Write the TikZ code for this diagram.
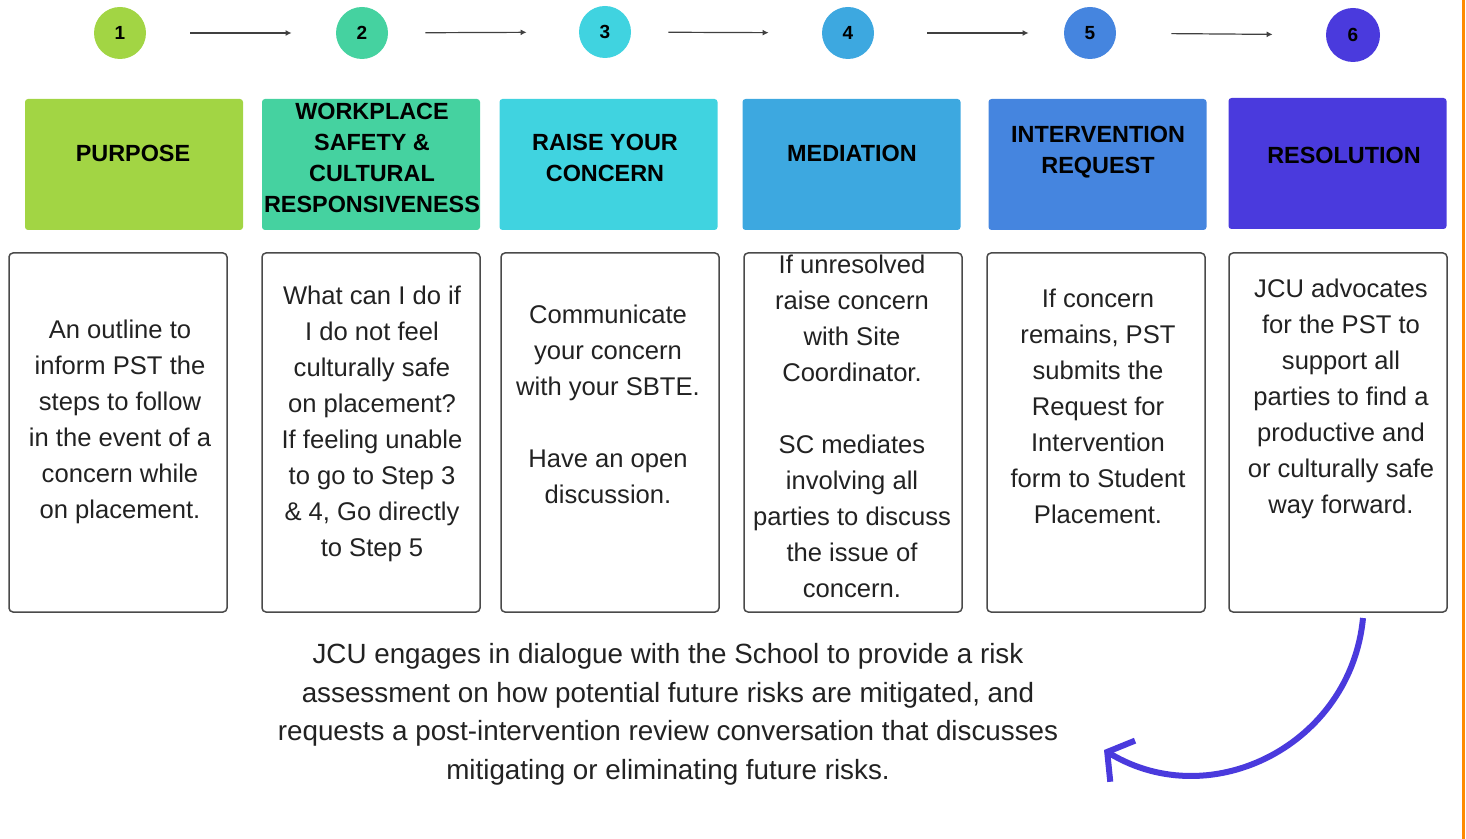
\documentclass[tikz,border=0pt]{standalone}
\usepackage{fontspec}
\setmainfont{Liberation Sans}
\newfontfamily\headfont{Liberation Sans}
\usetikzlibrary{arrows.meta}
\definecolor{cA}{HTML}{A2D544}
\definecolor{cB}{HTML}{45D2A0}
\definecolor{cC}{HTML}{40D3E0}
\definecolor{cD}{HTML}{3DA8E0}
\definecolor{cE}{HTML}{4585DF}
\definecolor{cF}{HTML}{4A3ADD}
\definecolor{orangeedge}{HTML}{FF8A00}
\definecolor{cardline}{HTML}{4A4A4A}
\definecolor{bodytext}{HTML}{222222}
\begin{document}
\begin{tikzpicture}[x=0.5pt,y=-0.5pt,
  circ/.style={circle, minimum size=26pt, inner sep=0pt, font=\bfseries\fontsize{9.5}{10}\selectfont, text=black},
  headbox/.style={rounded corners=1.5pt, minimum width=109pt, minimum height=65.5pt, inner sep=0pt},
  headtext/.style={align=center, font=\headfont\bfseries\fontsize{11.7}{15.5}\selectfont, text=black, inner sep=0pt},
  card/.style={draw=cardline, line width=0.75pt, rounded corners=2pt, minimum width=109pt, minimum height=179.5pt, inner sep=0pt},
  body/.style={align=center, font=\fontsize{12.8}{18}\selectfont, text=bodytext, inner sep=0pt},
  flow/.style={-{Latex[length=3pt,width=3pt]}, line width=0.6pt, draw=black!75},
  loopback/.style={draw=cF, line width=3pt, -{Straight Barb[length=9pt,width=24pt]}}
]
\useasboundingbox (0,0) rectangle (1466,839);
\draw[orangeedge, line width=1.5pt] (1463.5,0) -- (1463.5,839);

% step circles
\node[circ, fill=cA] (c1) at (120,33) {1};
\node[circ, fill=cB] (c2) at (362,33) {2};
\node[circ, fill=cC] (c3) at (605,32) {3};
\node[circ, fill=cD] (c4) at (848,33) {4};
\node[circ, fill=cE] (c5) at (1090,33) {5};
\node[circ, fill=cF, minimum size=27pt] (c6) at (1353,35) {6};
\draw[flow, shorten <=22pt, shorten >=22pt] (c1) -- (c2);
\draw[flow, shorten <=18.5pt, shorten >=26pt] (c2) -- (c3);
\draw[flow, shorten <=18.5pt, shorten >=26.5pt] (c3) -- (c4);
\draw[flow, shorten <=26.5pt, shorten >=17.5pt] (c4) -- (c5);
\draw[flow, shorten <=27.5pt, shorten >=26.5pt] (c5) -- (c6);

% header boxes
\node[headbox, fill=cA] (h1) at (134,164.5) {};
\node[headbox, fill=cB] (h2) at (371,164.5) {};
\node[headbox, fill=cC] (h3) at (608.5,164.5) {};
\node[headbox, fill=cD] (h4) at (851.5,164.5) {};
\node[headbox, fill=cE] (h5) at (1097.5,164.5) {};
\node[headbox, fill=cF] (h6) at (1337.5,163.5) {};
\node[headtext] (ht1) at (133,153) {PURPOSE};
\node[headtext] (ht2) at (372,158) {WORKPLACE\\SAFETY \&\\CULTURAL\\RESPONSIVENESS};
\node[headtext] (ht3) at (605,158) {RAISE YOUR\\CONCERN};
\node[headtext] (ht4) at (852,153) {MEDIATION};
\node[headtext] (ht5) at (1098,152) {INTERVENTION\\REQUEST};
\node[headtext] (ht6) at (1344,155) {RESOLUTION};

% content cards
\node[card] (k1) at (118,432.5) {};
\node[card] (k2) at (371,432.5) {};
\node[card] (k3) at (610,432.5) {};
\node[card] (k4) at (853,432.5) {};
\node[card] (k5) at (1096,432.5) {};
\node[card] (k6) at (1338,432.5) {};
\node[body] (t1) at (120,422) {An outline to\\inform PST the\\steps to follow\\in the event of a\\concern while\\on placement.};
\node[body] (t2) at (372,424) {What can I do if\\I do not feel\\culturally safe\\on placement?\\If feeling unable\\to go to Step 3\\\& 4, Go directly\\to Step 5};
\node[body] (t3) at (608,404) {Communicate\\your concern\\with your SBTE.\\[18pt]Have an open\\discussion.};
\node[body] (t4) at (852,426) {If unresolved\\raise concern\\with Site\\Coordinator.\\[18pt]SC mediates\\involving all\\parties to discuss\\the issue of\\concern.};
\node[body] (t5) at (1098,406) {If concern\\remains, PST\\submits the\\Request for\\Intervention\\form to Student\\Placement.};
\node[body] (t6) at (1341,399) {JCU advocates\\for the PST to\\support all\\parties to find a\\productive and\\or culturally safe\\way forward.};

% bottom statement
\node[body, font=\fontsize{13.9}{19.25}\selectfont] (bottom) at (668,714.5) {JCU engages in dialogue with the School to provide a risk\\assessment on how potential future risks are mitigated, and\\requests a post-intervention review conversation that discusses\\mitigating or eliminating future risks.};

% curved return arrow
\coordinate (loopstart) at (1363,618);
\coordinate (loopend) at (1104,750);
\draw[loopback] (loopstart) .. controls (1351,744) and (1212,815) .. (loopend);
\end{tikzpicture}
\end{document}
